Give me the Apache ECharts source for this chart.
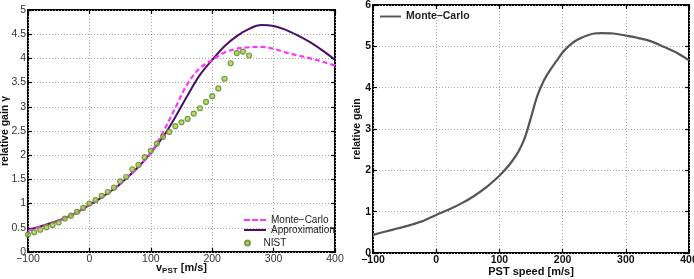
<!DOCTYPE html>
<html><head><meta charset="utf-8">
<script src="https://cdn.jsdelivr.net/npm/echarts@6/dist/echarts.min.js"></script>
<style>html,body{margin:0;padding:0;background:#fff}#c{width:694px;height:279px}</style>
</head><body><div id="c"></div>
<script>
// Left chart data
const leftX = [-100,-80,-60,-40,-20,0,20,40,60,80,100,120,140,160,180,200,220,240,260,280,300,320,340,360,380,400];
const approxY = [0.46,0.53,0.61,0.70,0.82,0.97,1.13,1.30,1.52,1.76,2.05,2.38,2.79,3.24,3.66,3.97,4.25,4.46,4.61,4.69,4.67,4.59,4.47,4.33,4.16,3.97];
const mcLeftY = [0.44,0.52,0.60,0.70,0.82,0.97,1.13,1.30,1.52,1.76,2.05,2.48,2.98,3.48,3.80,3.97,4.12,4.20,4.23,4.24,4.20,4.12,4.06,4.00,3.93,3.85];
const nistX = [-100,-90,-80,-70,-60,-50,-40,-30,-20,-10,0,10,20,30,40,50,60,70,80,90,100,110,120,130,140,150,160,170,180,190,200,210,220,230,240,250,260];
const nistY = [0.36,0.41,0.46,0.51,0.56,0.61,0.69,0.75,0.83,0.91,1.00,1.07,1.16,1.24,1.33,1.46,1.55,1.71,1.80,1.96,2.09,2.24,2.38,2.48,2.60,2.68,2.75,2.86,2.97,3.10,3.22,3.38,3.58,3.90,4.11,4.14,4.06];
// Right chart data
const rightX = [-100,-80,-60,-40,-20,0,20,40,60,80,100,110,120,130,140,150,160,170,180,190,200,210,220,230,240,250,260,280,300,320,340,360,380,400];
const mcRightY = [0.44,0.52,0.60,0.68,0.78,0.92,1.05,1.20,1.38,1.60,1.87,2.03,2.22,2.45,2.78,3.28,3.80,4.16,4.42,4.64,4.85,5.01,5.13,5.21,5.27,5.31,5.32,5.31,5.26,5.20,5.12,4.99,4.85,4.66];
// Tick settings
const xMin = -100, xMax = 400, xStep = 100;
const yLeftMax = 5, yLeftStep = 0.5;
const yRightMax = 6, yRightStep = 1;
// Labels
const leftNames = ['Monte\u2212Carlo', 'Approximation', 'NIST'];
const rightName = 'Monte\u2013Carlo';

const zip = (xs, ys) => xs.map((x, i) => [x, ys[i]]);
const FONT = 'Liberation Sans, Arial, sans-serif';
const minus = v => String(v).replace('-', '\u2212');
const tick = {show:true, inside:true, length:4, lineStyle:{color:'#000', width:1.2}};
const noLine = {show:false, onZero:false};

function xAxes(grid, bold) {
  return [
    { type:'value', gridIndex:grid, min:xMin, max:xMax, interval:xStep, position:'bottom',
      axisLine:noLine, axisTick:tick, nameMoveOverlap:false,
      axisLabel:{color: bold ? '#111' : '#333', fontSize:10.5, fontWeight: bold ? 'bold' : 'normal', fontFamily:FONT, margin:2, formatter:minus},
      splitLine:{show:true, lineStyle:{color:'#a8a8a8', type:[1,2], width:1}} },
    { type:'value', gridIndex:grid, min:xMin, max:xMax, interval:xStep, position:'top',
      axisLine:noLine, axisTick:tick, axisLabel:{show:false}, splitLine:{show:false} }
  ];
}
function yAxes(grid, max, step, bold) {
  return [
    { type:'value', gridIndex:grid, min:0, max:max, interval:step, position:'left',
      axisLine:noLine, axisTick:tick, nameMoveOverlap:false,
      axisLabel:{color: bold ? '#111' : '#333', fontSize:10.5, fontWeight: bold ? 'bold' : 'normal', fontFamily:FONT, margin:2},
      splitLine:{show:true, lineStyle:{color:'#a8a8a8', type:[1,2], width:1}} },
    { type:'value', gridIndex:grid, min:0, max:max, interval:step, position:'right',
      axisLine:noLine, axisTick:tick, axisLabel:{show:false}, splitLine:{show:false} }
  ];
}

const xa = xAxes(0, false).concat(xAxes(1, true));
const ya = yAxes(0, yLeftMax, yLeftStep, false).concat(yAxes(1, yRightMax, yRightStep, true));

xa[0].name = '{v|v}{s|PST}{v| [m/s]}';
xa[0].nameLocation = 'middle';
xa[0].nameGap = 9;
xa[0].nameTextStyle = {rich:{
  v:{fontSize:11, fontWeight:'bold', fontFamily:FONT, color:'#111'},
  s:{fontSize:8, fontWeight:'bold', fontFamily:FONT, color:'#111', padding:[6,0,0,0]}
}};
ya[0].name = 'relative gain \u03b3';
ya[0].nameLocation = 'middle';
ya[0].nameGap = 17;
ya[0].nameTextStyle = {fontSize:10.5, fontWeight:'bold', fontFamily:FONT, color:'#111'};

xa[2].name = 'PST speed [m/s]';
xa[2].nameLocation = 'middle';
xa[2].nameGap = 13;
xa[2].nameTextStyle = {fontSize:11, fontWeight:'bold', fontFamily:FONT, color:'#111'};
ya[2].name = 'relative gain';
ya[2].nameLocation = 'middle';
ya[2].nameGap = 10;
ya[2].nameTextStyle = {fontSize:10.5, fontWeight:'bold', fontFamily:FONT, color:'#111'};

const dashIcon = 'path://M0,0h6v2h-6zM8,0h6v2h-6zM16,0h6v2h-6z';
const solidIcon = 'path://M0,0h22v2h-22z';

const option = {
  animation:false,
  backgroundColor:'#fff',
  grid:[
    {left:28, right:359, top:10, bottom:27, outerBoundsMode:'none', containLabel:false, show:true, borderColor:'#000', borderWidth:2, backgroundColor:'transparent'},
    {left:373, right:5, top:5, bottom:26, outerBoundsMode:'none', containLabel:false, show:true, borderColor:'#000', borderWidth:2, backgroundColor:'transparent'}
  ],
  xAxis: xa,
  yAxis: ya,
  legend:[
    { orient:'vertical', left:239, top:210, itemWidth:22, itemHeight:2, itemGap:0,
      textStyle:{fontSize:10, fontFamily:FONT, color:'#222'},
      data:[
        {name:leftNames[0], icon:dashIcon},
        {name:leftNames[1], icon:solidIcon}
      ] },
    { orient:'vertical', left:239, top:233, itemWidth:22, itemHeight:5,
      textStyle:{fontSize:10, fontFamily:FONT, color:'#222'},
      data:[{name:leftNames[2], icon:'circle'}] },
    { orient:'vertical', left:375, top:6, itemWidth:21, itemHeight:2,
      textStyle:{fontSize:10.5, fontWeight:'bold', fontFamily:FONT, color:'#222'},
      data:[{name:rightName, icon:solidIcon}] }
  ],
  series:[
    { name:leftNames[0], type:'line', xAxisIndex:0, yAxisIndex:0, data:zip(leftX, mcLeftY),
      smooth:0.35, showSymbol:false, symbol:'none', z:3,
      lineStyle:{color:'#ff33ff', width:2.2, type:[5,3]}, itemStyle:{color:'#ff33ff'} },
    { name:leftNames[1], type:'line', xAxisIndex:0, yAxisIndex:0, data:zip(leftX, approxY),
      smooth:0.35, showSymbol:false, symbol:'none', z:2,
      lineStyle:{color:'#4b0f68', width:2}, itemStyle:{color:'#4b0f68'} },
    { name:leftNames[2], type:'scatter', xAxisIndex:0, yAxisIndex:0, data:zip(nistX, nistY),
      symbol:'circle', symbolSize:5, z:4,
      itemStyle:{color:'#a9cc5a', borderColor:'#5c8a1e', borderWidth:1.2} },
    { name:rightName, type:'line', xAxisIndex:2, yAxisIndex:2, data:zip(rightX, mcRightY),
      smooth:0.35, showSymbol:false, symbol:'none',
      lineStyle:{color:'#555', width:2.2}, itemStyle:{color:'#555'} }
  ]
};
const chart = echarts.init(document.getElementById('c'), null, {renderer:'canvas'});
chart.setOption(option);
</script></body></html>
